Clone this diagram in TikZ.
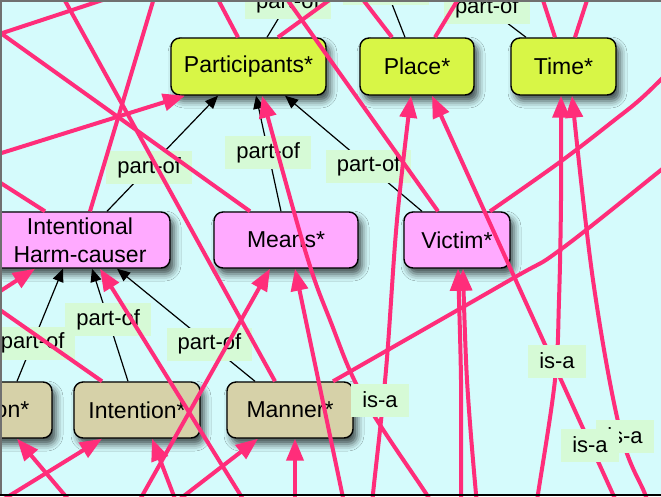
\documentclass[tikz,border=0pt]{standalone}
\usepackage{fontspec}
\setmainfont{Liberation Sans}
\usetikzlibrary{arrows.meta,shadows.blur}

\definecolor{bgcyan}{RGB}{213,251,252}
\definecolor{yelbox}{RGB}{216,246,70}
\definecolor{pinkbox}{RGB}{255,170,255}
\definecolor{tanbox}{RGB}{214,209,168}
\definecolor{lblgreen}{RGB}{214,250,214}
\definecolor{isapink}{RGB}{255,45,122}
\definecolor{framegray}{RGB}{112,112,112}

\tikzset{
  framebox/.style={draw=black, line width=1.4pt, rounded corners=9pt,
    minimum height=56pt, inner sep=0pt, align=center,
    font=\fontsize{23}{28}\selectfont,
    blur shadow={shadow xshift=4pt, shadow yshift=-6pt,
      shadow blur radius=7pt, shadow opacity=70}},
  topbox/.style={framebox, fill=yelbox, minimum height=57pt},
  midbox/.style={framebox, fill=pinkbox},
  lowbox/.style={framebox, fill=tanbox},
  lbl/.style={fill=lblgreen, inner xsep=11pt, inner ysep=0pt,
    minimum height=33pt, font=\fontsize{22}{22}\selectfont},
  partof/.style={draw=black, line width=1.2pt,
    -{Triangle[length=13pt,width=11pt]}},
  partofline/.style={draw=black, line width=1.2pt},
  isa/.style={draw=isapink, line width=4pt,
    -{Triangle[length=22pt,width=17pt]}},
  isaline/.style={draw=isapink, line width=4pt},
}

\begin{document}
\begin{tikzpicture}[x=1pt,y=-1pt]
\useasboundingbox (0,0) rectangle (661,496);
\fill[bgcyan] (0,0) rectangle (661,496);

\begin{scope}
\clip (0,0) rectangle (661,496);

% frame elements
\node[topbox, minimum width=155pt] (part)  at (248.5,66.5) {Participants*};
\node[topbox, minimum width=114pt] (place) at (417,66.5)   {Place*};
\node[topbox, minimum width=105pt] (time)  at (563.5,66.5) {Time*};

\node[midbox, minimum width=180pt] (ihc)    at (80,240)  {Intentional\\Harm-causer};
\node[midbox, minimum width=144pt] (means)  at (286,240) {Means*};
\node[midbox, minimum width=106pt] (victim) at (457,240) {Victim*};

\node[lowbox, minimum width=80pt]  (act)    at (12,410)  {on*};
\node[lowbox, minimum width=126pt] (intent) at (137,410) {Intention*};
\node[lowbox, minimum width=126pt] (manner) at (290,410) {Manner*};

% parents lying above the visible area
\coordinate (upPart)  at (309.6,-33);
\coordinate (upPlace) at (377.5,-33);
\coordinate (upTime)  at (450.6,-20);

% part-of relations
\draw[partof] ([xshift=27pt]ihc.north) -- node[lbl,pos=0.38]{part-of} ([xshift=-30.5pt]part.south);
\draw[partof] ([xshift=-5pt]means.north) -- node[lbl,pos=0.51]{part-of} ([xshift=7.5pt]part.south);
\draw[partof] ([xshift=-35pt]victim.north) -- node[lbl,pos=0.39]{part-of} ([xshift=36.5pt]part.south);
\draw[partofline] ([xshift=18.5pt]part.north) -- node[lbl,pos=0.49]{part-of} (upPart);
\draw[partofline] ([xshift=-12pt]place.north) -- node[lbl,pos=0.69]{part-of} (upPlace);
\draw[partofline] ([xshift=-37.5pt]time.north) -- node[lbl,pos=0.52]{part-of} (upTime);
\draw[partof] ([xshift=5pt]act.north) -- node[lbl,pos=0.34]{part-of} ([xshift=-17pt]ihc.south);
\draw[partof] ([xshift=-9pt]intent.north) -- node[lbl,pos=0.55]{part-of} ([xshift=12pt]ihc.south);
\draw[partof] ([xshift=-35pt]manner.north) -- node[lbl,pos=0.33]{part-of} ([xshift=37pt]ihc.south);

% endpoints of is-a links outside the visible area
\coordinate (oA) at (-40,4);
\coordinate (oB1) at (130,-9);
\coordinate (oB2) at (-40,47);
\coordinate (oC) at (58,-12);
\coordinate (oD) at (157,-12);
\coordinate (oE) at (-40,166);
\coordinate (oF) at (-40,157);
\coordinate (oG) at (437,512);
\coordinate (oH) at (212,-12);
\coordinate (oI) at (346,-12);
\coordinate (oJ) at (279,-12);
\coordinate (oK) at (354,-12);
\coordinate (oL) at (465,-12);
\coordinate (oM) at (539,-12);
\coordinate (oN) at (591,-12);
\coordinate (oP) at (690,50);
\coordinate (oQ) at (700,138);
\coordinate (oR) at (535,512);
\coordinate (oS) at (651,512);
\coordinate (oT) at (372,512);
\coordinate (oU) at (621,512);
\coordinate (oV) at (461,512);
\coordinate (oW) at (479,512);
\coordinate (oX) at (133,512);
\coordinate (oY) at (346,512);
\coordinate (oZ) at (-40,317);
\coordinate (oAA) at (251,512);
\coordinate (oAB) at (-40,282);
\coordinate (oAC) at (79,512);
\coordinate (oAD) at (-17,512);
\coordinate (oAE) at (180,512);
\coordinate (oAF) at (163,512);
\coordinate (oAG) at (295,512);

% anchor points on the frame boxes
\coordinate (pPartIn)  at ([xshift=13.5pt]part.south);
\coordinate (pTimeA)   at ([xshift=-2.5pt]time.south);
\coordinate (pTimeB)   at ([xshift=8.5pt]time.south);
\coordinate (pPlaceA)  at ([xshift=-6pt]place.south);
\coordinate (pVicA)    at ([xshift=1pt]victim.south);
\coordinate (pVicB)    at ([xshift=6pt]victim.south);
\coordinate (pVicTop)  at ([xshift=33pt]victim.north);
\coordinate (pManTop)  at ([xshift=43pt]manner.north);

% is-a links
\draw[isaline] ([xshift=-36pt]means.north) -- (oA);
\draw[isaline] (oB1) -- (oB2);
\draw[isaline] ([xshift=-15pt]manner.north) -- (oC);
\draw[isaline] ([xshift=10pt]ihc.north) -- (oD);
\draw[isa] (oE) -- ([xshift=-63.5pt]part.south);
\draw[isaline] ([xshift=-35pt]ihc.north) -- (oF);
\draw[isa] plot[smooth, tension=0.6] coordinates {(oG) (427,495) (363,397) (330,320) (305,250) (pPartIn)};
\draw[isaline] ([xshift=-10.5pt]part.north) -- (oH);
\draw[isaline] ([xshift=29.5pt]part.north) -- (oI);
\draw[isaline] ([xshift=-19pt]victim.north) -- (oJ);
\draw[isaline] ([xshift=-25pt]place.north) -- (oK);
\draw[isaline] ([xshift=18pt]place.north) -- (oL);
\draw[isaline] ([xshift=-8.5pt]time.north) -- (oM);
\draw[isaline] ([xshift=11.5pt]time.north) -- (oN);
\draw[isaline] plot[smooth, tension=0.6] coordinates {(pVicTop) (560,162) (612,122) (645,95) (oP)};
\draw[isaline] plot[smooth, tension=0.6] coordinates {(pManTop) (510,280) (560,250) (661,170) (oQ)};
\draw[isa] plot[smooth, tension=0.6] coordinates {(oR) (538,494) (555,380) (559,300) (561,200) (pTimeA)};
\draw[isa] plot[smooth, tension=0.6] coordinates {(oS) (645,494) (620,430) (593,280) (pTimeB)};
\draw[isa] plot[smooth, tension=0.6] coordinates {(oT) (373,494) (386,370) (397,220) (pPlaceA)};
\draw[isa] (oU) -- ([xshift=15pt]place.south);
\draw[isa] plot[smooth, tension=0.6] coordinates {(oV) (461,494) (461,380) (pVicA)};
\draw[isa] plot[smooth, tension=0.6] coordinates {(oW) (476,494) (467,380) (pVicB)};
\draw[isa] (oX) -- ([xshift=-16pt]means.south);
\draw[isa] (oY) -- ([xshift=9pt]means.south);
\draw[isa] (oZ) -- ([xshift=-45pt]ihc.south);
\draw[isa] (oAA) -- ([xshift=20pt]ihc.south);
\draw[isaline] ([xshift=-35pt]intent.north) -- (oAB);
\draw[isa] (oAC) -- ([xshift=5pt]act.south);
\draw[isa] (oAD) -- ([xshift=-35pt]intent.south);
\draw[isa] (oAE) -- ([xshift=15pt]intent.south);
\draw[isa] (oAF) -- ([xshift=-32pt]manner.south);
\draw[isa] (oAG) -- ([xshift=5pt]manner.south);

% is-a labels
\node[lbl] (isa1) at (557,361) {is-a};
\node[lbl] (isa2) at (380,400) {is-a};
\node[lbl] (isa3) at (625,436) {is-a};
\node[lbl] (isa4) at (590,445) {is-a};
\end{scope}

% window edges
\draw[framegray, line width=1.5pt] (0,0.75) -- (661,0.75);
\draw[framegray, line width=1.5pt] (0.75,0) -- (0.75,496);
\draw[black, line width=2.5pt] (0,495) -- (661,495);
\end{tikzpicture}
\end{document}
